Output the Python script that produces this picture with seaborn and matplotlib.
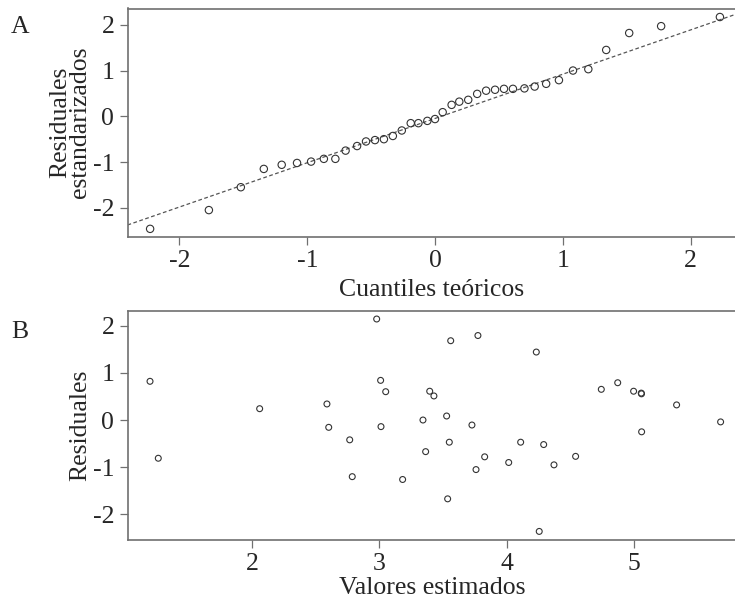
import numpy as np
import pandas as pd
import matplotlib
matplotlib.use("Agg")
import matplotlib.pyplot as plt
import seaborn as sns

# panel A: normal QQ plot of standardized residuals
teoricos = [-2.23, -1.77, -1.52, -1.34, -1.20, -1.08, -0.97, -0.87, -0.78, -0.70,
            -0.61, -0.54, -0.47, -0.40, -0.33, -0.26, -0.19, -0.13, -0.06, 0.00,
            0.06, 0.13, 0.19, 0.26, 0.33, 0.40, 0.47, 0.54, 0.61, 0.70,
            0.78, 0.87, 0.97, 1.08, 1.20, 1.34, 1.52, 1.77, 2.23]
estandarizados = [-2.46, -2.05, -1.55, -1.15, -1.06, -1.02, -0.99, -0.93, -0.93, -0.75,
                  -0.65, -0.55, -0.52, -0.50, -0.43, -0.31, -0.15, -0.15, -0.10, -0.06,
                  0.09, 0.25, 0.32, 0.36, 0.49, 0.56, 0.58, 0.60, 0.60, 0.61,
                  0.65, 0.71, 0.79, 1.00, 1.03, 1.45, 1.82, 1.97, 2.17]

# panel B: residuals vs fitted values
estimados = [1.196, 1.261, 2.058, 2.587, 2.601, 2.766, 2.786, 2.978, 3.009, 3.049,
             3.012, 3.182, 3.342, 3.363, 3.395, 3.428, 3.560, 3.774, 4.233, 3.528,
             3.727, 3.549, 3.827, 3.759, 4.016, 4.110, 4.291, 4.372, 4.542, 3.536,
             4.256, 4.744, 4.873, 4.998, 5.058, 5.060, 5.336, 5.682, 5.061]
residuales = [0.82, -0.81, 0.24, 0.34, -0.155, -0.42, -1.20, 2.14, 0.84, 0.60,
              -0.14, -1.26, 0.00, -0.67, 0.61, 0.51, 1.68, 1.79, 1.44, 0.085,
              -0.106, -0.47, -0.78, -1.05, -0.90, -0.47, -0.52, -0.95, -0.77, -1.67,
              -2.36, 0.65, 0.79, 0.61, 0.57, 0.555, 0.32, -0.04, -0.25]

df_a = pd.DataFrame({"x": teoricos, "y": estandarizados})
df_b = pd.DataFrame({"x": estimados, "y": residuales})

sns.set_style("white")
plt.rcParams['font.family'] = ['Liberation Serif', 'DejaVu Serif']

spine_col = "#707070"
pt_col = "#333333"
fs = 18.5

fig = plt.figure(figsize=(7.35, 5.99), dpi=100)
ax_a = fig.add_axes([127.5/735, 1-237/599, (736-127.5)/735, (237-8.5)/599])
ax_b = fig.add_axes([127.5/735, 1-540/599, (736-127.5)/735, (540-310.7)/599])

# qq line through the quartiles (as R's qqline)
q1, q3 = np.quantile(estandarizados, [0.25, 0.75])
z = 0.6745
pendiente = (q3 - q1) / (2 * z)
intercepto = q1 + pendiente * z

sns.scatterplot(data=df_a, x="x", y="y", ax=ax_a, marker="o", s=28,
                facecolor="none", edgecolor=pt_col, linewidth=0.8, zorder=3)
ax_a.axline((0, intercepto), slope=pendiente, color="#555555", ls=(0, (3, 2)),
            lw=0.9, zorder=2)
ax_a.set_xlim(-2.407, 2.356)
ax_a.set_ylim(-2.638, 2.356)
ax_a.set_xticks([-2, -1, 0, 1, 2])
ax_a.set_yticks([-2, -1, 0, 1, 2])
ax_a.set_xticklabels(["-2", "-1", "0", "1", "2"])
ax_a.set_yticklabels(["-2", "-1", "0", "1", "2"])
ax_a.set_xlabel("Cuantiles teóricos", fontsize=fs, labelpad=5)
ax_a.set_ylabel("Residuales\nestandarizados", fontsize=fs, labelpad=1, linespacing=0.9)

sns.scatterplot(data=df_b, x="x", y="y", ax=ax_b, marker="o", s=18,
                facecolor="none", edgecolor=pt_col, linewidth=0.8, zorder=3)
ax_b.set_xlim(1.019, 5.803)
ax_b.set_ylim(-2.542, 2.316)
ax_b.set_xticks([2, 3, 4, 5])
ax_b.set_yticks([-2, -1, 0, 1, 2])
ax_b.set_yticklabels(["-2", "-1", "0", "1", "2"])
ax_b.set_xlabel("Valores estimados", fontsize=fs, labelpad=1)
ax_b.set_ylabel("Residuales", fontsize=fs, labelpad=1)

for ax in (ax_a, ax_b):
    for s in ax.spines.values():
        s.set_color(spine_col)
        s.set_linewidth(1.2)
    ax.tick_params(axis="both", direction="out", length=5.5, width=0.9,
                   color=spine_col, labelsize=fs, pad=4, bottom=True, left=True)

fig.text(20/735, 1-27/599, "A", fontsize=fs, ha="center", va="center")
fig.text(20/735, 1-332/599, "B", fontsize=fs, ha="center", va="center")

fig.savefig("out.png", dpi=100)
